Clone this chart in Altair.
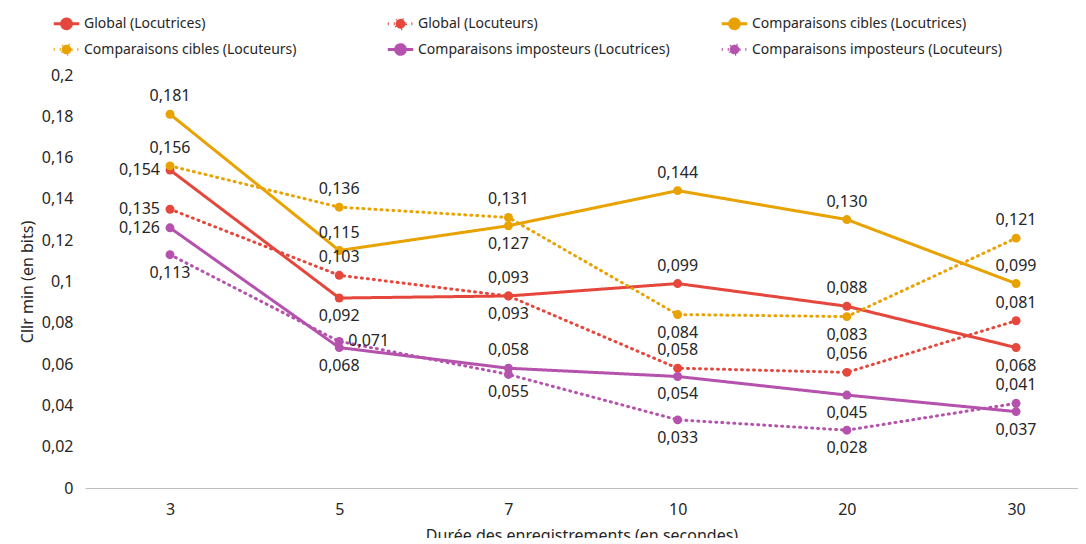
import altair as alt
import pandas as pd

durations = ["3", "5", "7", "10", "20", "30"]
series_names = [
    "Global (Locutrices)",
    "Global (Locuteurs)",
    "Comparaisons cibles (Locutrices)",
    "Comparaisons cibles (Locuteurs)",
    "Comparaisons imposteurs (Locutrices)",
    "Comparaisons imposteurs (Locuteurs)",
]
global_f = [0.154, 0.092, 0.093, 0.099, 0.088, 0.068]
global_m = [0.135, 0.103, 0.093, 0.058, 0.056, 0.081]
cibles_f = [0.181, 0.115, 0.127, 0.144, 0.130, 0.099]
cibles_m = [0.156, 0.136, 0.131, 0.084, 0.083, 0.121]
impost_f = [0.126, 0.068, 0.058, 0.054, 0.045, 0.037]
impost_m = [0.113, 0.071, 0.055, 0.033, 0.028, 0.041]

# label placement per point: a=above, b=below, l=left, r=right
place_global_f = ["l", "b", "b", "a", "a", "b"]
place_global_m = ["l", "a", "a", "a", "a", "a"]
place_cibles_f = ["a", "a", "b", "a", "a", "a"]
place_cibles_m = ["a", "a", "a", "b", "b", "a"]
place_impost_f = ["l", "b", "a", "b", "b", "b"]
place_impost_m = ["b", "r", "b", "b", "b", "a"]

colors = ["#E5473D", "#E5473D", "#E8A202", "#E8A202", "#B552AD", "#B552AD"]
dashes = [[1, 0], [1, 5], [1, 0], [1, 5], [1, 0], [1, 5]]

all_vals = [global_f, global_m, cibles_f, cibles_m, impost_f, impost_m]
all_place = [place_global_f, place_global_m, place_cibles_f, place_cibles_m,
             place_impost_f, place_impost_m]

rows = []
for s, vals, pl in zip(series_names, all_vals, all_place):
    for i, (d, v, p) in enumerate(zip(durations, vals, pl)):
        rows.append({"series": s, "idx": i, "duree": d, "value": v, "place": p})
df = pd.DataFrame(rows)

FONT = "Noto Sans"
TXT = "#262626"
label_expr = "['3','5','7','10','20','30'][datum.value]"

x_enc = alt.X(
    "idx:Q",
    scale=alt.Scale(domain=[-0.5024, 5.366], nice=False, zero=False),
    axis=alt.Axis(
        values=[0, 1, 2, 3, 4, 5],
        labelExpr=label_expr,
        grid=False,
        ticks=False,
        domainColor="#BFBFBF",
        domainWidth=1,
        labelFontSize=16,
        labelColor=TXT,
        labelPadding=13,
        titleFontSize=16,
        titleFontWeight="normal",
        titleColor=TXT,
        titlePadding=10,
    ),
    title="Durée des enregistrements (en secondes)",
)
y_enc = alt.Y(
    "value:Q",
    scale=alt.Scale(domain=[0, 0.2], nice=False),
    axis=alt.Axis(
        values=[0, 0.02, 0.04, 0.06, 0.08, 0.1, 0.12, 0.14, 0.16, 0.18, 0.2],
        labelExpr="replace(format(datum.value, '~g'), '.', ',')",
        grid=False,
        ticks=False,
        domain=False,
        labelFontSize=16,
        labelColor=TXT,
        labelPadding=12,
        titleFontSize=16,
        titleFontWeight="normal",
        titleColor=TXT,
        titlePadding=6,
    ),
    title="Cllr min (en bits)",
)

sym_path = "M-1,0H-0.38M0.38,0H1M0.38,0A0.38,0.38,0,1,1,-0.38,0A0.38,0.38,0,1,1,0.38,0Z"

def make_legend():
    return alt.Legend(
        title=None,
        orient="none",
        direction="horizontal",
        legendX=-33,
        legendY=-66,
        columns=3,
        gridAlign="all",
        columnPadding=45,
        rowPadding=0,
        symbolType=sym_path,
        symbolSize=650,
        symbolStrokeWidth=3,
        labelFontSize=14,
        labelColor=TXT,
        labelLimit=400,
        labelOffset=3,
    )

color_enc = alt.Color(
    "series:N",
    scale=alt.Scale(domain=series_names, range=colors),
    sort=series_names,
    legend=make_legend(),
)
dash_enc = alt.StrokeDash(
    "series:N",
    scale=alt.Scale(domain=series_names, range=dashes),
    sort=series_names,
    legend=make_legend(),
)

base = alt.Chart(df)

lines = base.mark_line(strokeWidth=3, strokeCap="round").encode(
    x=x_enc, y=y_enc, color=color_enc, strokeDash=dash_enc, detail="series:N"
)
points = base.mark_circle(size=80, opacity=1).encode(
    x="idx:Q", y="value:Q",
    color=alt.Color("series:N", scale=alt.Scale(domain=series_names, range=colors), legend=None),
)

text_base = base.transform_calculate(
    lab="replace(format(datum.value, '.3f'), '.', ',')"
)
def txt(code, **kw):
    return text_base.transform_filter(alt.datum.place == code).mark_text(
        font=FONT, fontSize=16, color=TXT, baseline="middle", **kw
    ).encode(x="idx:Q", y="value:Q", text="lab:N")

labels = (
    txt("a", dy=-18, align="center")
    + txt("b", dy=18, align="center")
    + txt("l", dx=-10, align="right")
    + txt("r", dx=9, align="left")
)

chart = (
    alt.layer(lines, points, labels)
    .properties(
        width=993,
        height=413,
        autosize=alt.AutoSizeParams(type="none"),
        padding={"left": 77, "top": 67, "right": 0, "bottom": 50},
    )
    .configure(font=FONT)
    .configure_view(stroke=None)
)

chart.save("out.html", embed_options={"renderer": "svg", "actions": False})
